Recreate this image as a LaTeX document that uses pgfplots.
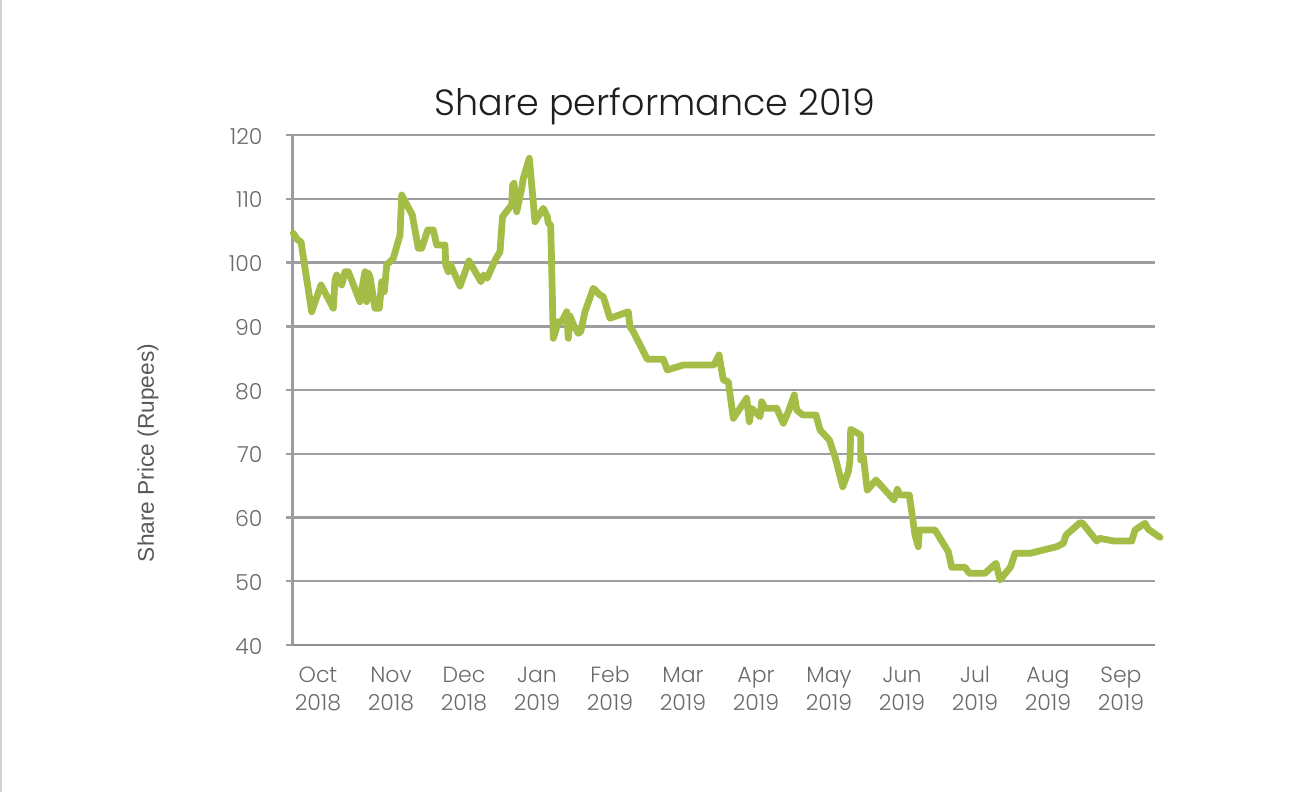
\documentclass[border=0pt]{standalone}
\usepackage{fontspec}
\setmainfont{Poppins}[UprightFont=* Light]
\newfontfamily\labelfont{Liberation Sans}
\usepackage{pgfplots}
\pgfplotsset{compat=1.18}

\definecolor{sharegreen}{HTML}{A3BD47}
\definecolor{gridgray}{HTML}{9E9EA2}
\definecolor{axisgray}{HTML}{8E8E92}
\definecolor{ticktext}{HTML}{6A6A6A}

\begin{document}
\begin{tikzpicture}
\path[use as bounding box] (0,0) rectangle (1298bp,792bp);
\draw[gray!35, line width=2bp] (1bp,0) -- (1bp,792bp);

% title and y label sit outside the axis, placed by hand
\node[font=\fontsize{36.5bp}{42bp}\selectfont, text=black!88] at (655bp,686bp) {Share performance 2019};
\node[font=\labelfont\fontsize{22.7bp}{26bp}\selectfont, text=black!65, rotate=90] at (148bp,339bp) {Share Price (Rupees)};

\begin{axis}[
    at={(292bp,147bp)}, anchor=south west,
    scale only axis, width=863bp, height=510bp,
    clip=false,
    xmin=292, xmax=1155,
    ymin=40, ymax=120,
    axis x line=bottom, axis y line=left,
    axis line style={-},
    x axis line style={axisgray, line width=2.5bp},
    y axis line style={gridgray, line width=3bp},
    ytick={40,50,...,120},
    ymajorgrids,
    grid style={gridgray, line width=2.5bp},
    tick align=outside,
    major tick length=6bp,
    ytick style={gridgray, line width=2.5bp},
    xtick={318,391,464,537,610,683,756,829,902,975,1048,1121},
    xticklabels={Oct\\2018,Nov\\2018,Dec\\2018,Jan\\2019,Feb\\2019,Mar\\2019,
                 Apr\\2019,May\\2019,Jun\\2019,Jul\\2019,Aug\\2019,Sep\\2019},
    xtick style={draw=none},
    typeset ticklabels with strut,
    xticklabel style={align=center, text=ticktext, anchor=north,
        font=\fontsize{22bp}{28.5bp}\selectfont, yshift=-8bp},
    extra x ticks={306,361,431,506,578,645,720,790,866,938,1010,1086,1155},
    extra x tick labels={},
    extra x tick style={grid=none, major tick length=7bp,
        tick style={axisgray, line width=2.5bp}},
    yticklabel style={text=ticktext, font=\fontsize{22bp}{26bp}\selectfont,
        /pgf/number format/assume math mode=true, xshift=-20bp, yshift=-4bp},
]
\addplot[sharegreen, line width=6.8bp, line join=round, line cap=round] coordinates {
(293.3,104.58) (297.7,103.53) (301,103.26) (311.7,92.28) (321,96.47)
(333.3,92.82) (335,97.25) (336.7,98.04) (341.7,96.47) (345,98.56)
(348.3,98.56) (360,93.85) (362.3,96.20) (365,98.56) (366.7,93.85)
(368.3,98.31) (370,97.77) (375,92.82) (379.3,92.82) (381.7,96.99)
(384.3,95.42) (386.7,99.61) (393.3,100.66) (400,104.31) (401.7,110.59)
(412.3,107.45) (418.3,102.23) (421.7,102.23) (427.7,105.10) (433.3,105.10)
(436.7,102.75) (445,102.75) (445.7,99.61) (448.3,98.56) (450.7,99.61)
(460,96.31) (469,100.24) (481,96.99) (483.7,98.04) (487,97.52)
(496,100.66) (500,101.69) (502.5,107.18) (507.7,108.24) (511.7,109.02)
(512.7,112.16) (514,112.42) (516.7,107.97) (521.7,111.64) (523.3,113.21)
(529.3,116.35) (535,106.40) (543.3,108.50) (547.3,107.18) (548.3,106.15)
(550.7,105.88) (553.3,88.11) (558.3,90.71) (561.7,90.71) (566.7,92.28)
(568.3,88.11) (570,91.61) (574,90.04) (578.3,88.89) (580.7,89.15)
(585,92.28) (593.3,95.95) (600,94.90) (603.3,94.64) (610,91.25)
(628.3,92.28) (630,89.93) (633.3,89.15) (647.3,84.82) (663.3,84.82)
(667.3,83.14) (683.3,83.92) (714,83.92) (719,85.49) (723.3,81.57)
(728.3,81.30) (733.3,75.56) (746.7,78.70) (749.3,75.03) (751.7,77.13)
(760,75.81) (761.7,78.16) (765,77.13) (776.7,77.13) (783.3,74.78)
(788.3,76.60) (794.3,79.22) (796.7,76.86) (802.7,76.08) (816,76.08)
(820,73.73) (829.3,72.16) (835,69.54) (842.7,64.83) (848.3,67.18)
(850,69.02) (850.7,73.84) (860.7,72.94) (860.7,69.02) (863.3,69.54)
(867.3,64.31) (876,65.88) (894,62.75) (897.3,64.42) (900,63.53)
(909.3,63.53) (915,57.25) (918.3,55.42) (919.3,58.04) (935,58.04)
(948.3,54.64) (951.7,52.19) (965,52.19) (969.3,51.25) (985,51.25)
(996,52.82) (1000,50.20) (1010.7,52.28) (1015,54.38) (1030,54.38)
(1056.7,55.42) (1063.3,55.95) (1066,57.25) (1080,59.18) (1082.7,59.09)
(1096.7,56.31) (1099.3,56.74) (1114,56.31) (1131.7,56.31) (1135,58.04)
(1145,59.09) (1148.3,58.15) (1160,56.89)
};
\end{axis}
\end{tikzpicture}
\end{document}
